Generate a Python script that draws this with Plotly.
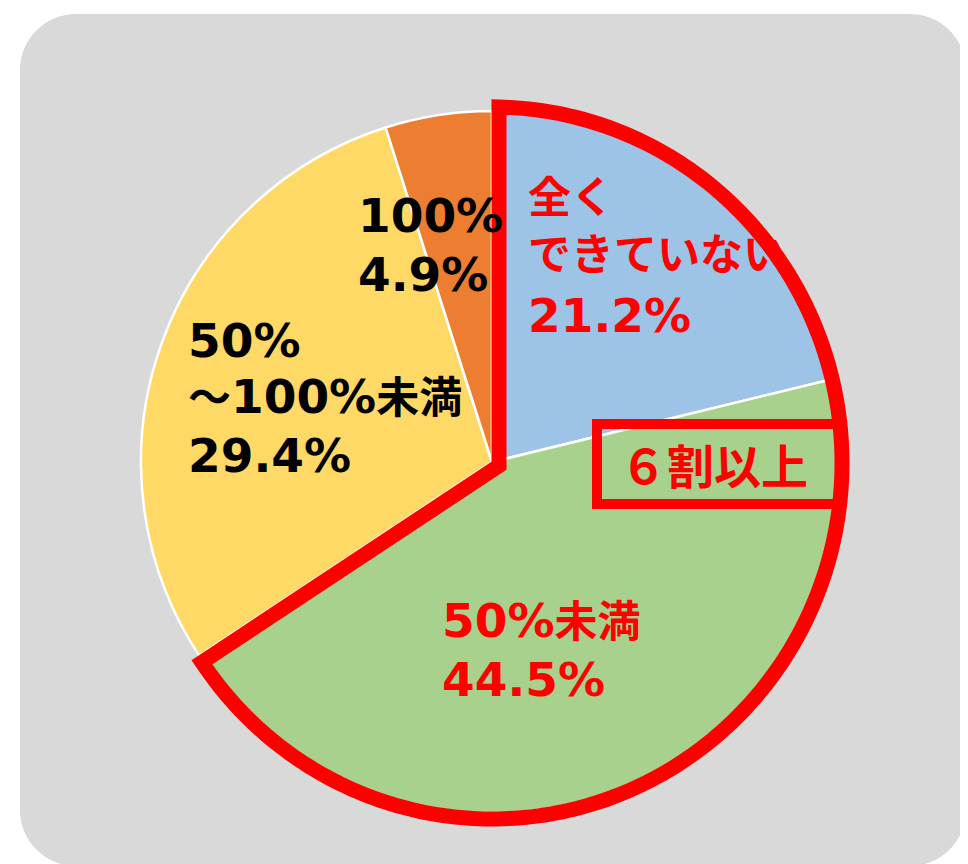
import math
import plotly.graph_objects as go

# ---- data ----
categories = ["全くできていない", "50%未満", "50%～100%未満", "100%"]
values = [21.2, 44.5, 29.4, 4.9]
colors = ["#9DC3E6", "#A9D18E", "#FFD966", "#ED7D31"]
label_lines = [["全く", "できていない"], ["50%未満"], ["50%", "～100%未満"], ["100%"]]
label_colors = ["#FF0000", "#FF0000", "#000000", "#000000"]
highlight = [0, 1]          # slices enclosed by the red outline
highlight_text = "６割以上"

# ---- layout geometry (screen pixels; page body has an 8px margin) ----
W, H = 968, 864
OFF = 8
cx, cy, R = 492, 462, 351
label_pos = [(526, [198, 255, 315]), (440, [620, 679]), (186, [340, 397, 455]), (356, [216, 274])]

def px(x):
    return (x - OFF) / W

def py(y):
    return 1 - (y - OFF) / H

fig = go.Figure(go.Pie(
    labels=categories, values=values, sort=False, direction="clockwise", rotation=0,
    marker=dict(colors=colors, line=dict(color="white", width=2.5)),
    textinfo="none", hoverinfo="skip", showlegend=False,
    domain=dict(x=[px(cx - R), px(cx + R)], y=[py(cy + R), py(cy - R)]),
))

shapes = []
# gray rounded background
x0, y0, x1, y1, rr = 20, 14, 966, 866, 56
k = 0.5523 * rr
pts = [
    f"M{px(x0 + rr)},{py(y0)}", f"L{px(x1 - rr)},{py(y0)}",
    f"C{px(x1 - rr + k)},{py(y0)} {px(x1)},{py(y0 + rr - k)} {px(x1)},{py(y0 + rr)}",
    f"L{px(x1)},{py(y1 - rr)}",
    f"C{px(x1)},{py(y1 - rr + k)} {px(x1 - rr + k)},{py(y1)} {px(x1 - rr)},{py(y1)}",
    f"L{px(x0 + rr)},{py(y1)}",
    f"C{px(x0 + rr - k)},{py(y1)} {px(x0)},{py(y1 - rr + k)} {px(x0)},{py(y1 - rr)}",
    f"L{px(x0)},{py(y0 + rr)}",
    f"C{px(x0)},{py(y0 + rr - k)} {px(x0 + rr - k)},{py(y0)} {px(x0 + rr)},{py(y0)}", "Z",
]
shapes.append(dict(type="path", path=" ".join(pts), xref="paper", yref="paper",
                   fillcolor="#D9D9D9", line=dict(width=0), layer="below"))

# red outline around highlighted slices (computed from the data)
total = sum(values)
a_start = sum(values[:highlight[0]]) / total * 2 * math.pi
a_end = sum(values[:highlight[-1] + 1]) / total * 2 * math.pi
off, lw = 7, 15
ecx, ecy, rx, ry = 492, 463, 350, 356

def dirv(a):
    return (math.sin(a), -math.cos(a))

def nrm(a, sign):
    return (sign * math.cos(a), sign * math.sin(a))

d1, n1 = dirv(a_start), nrm(a_start, 1)
d2, n2 = dirv(a_end), nrm(a_end, -1)
p1 = (cx + off * n1[0], cy + off * n1[1])
p2 = (cx + off * n2[0], cy + off * n2[1])
den = d1[0] * d2[1] - d1[1] * d2[0]
t = ((p2[0] - p1[0]) * d2[1] - (p2[1] - p1[1]) * d2[0]) / den
corner = (p1[0] + t * d1[0], p1[1] + t * d1[1])

def ellipse_hit(p, d):
    ux, uy = (p[0] - ecx) / rx, (p[1] - ecy) / ry
    vx, vy = d[0] / rx, d[1] / ry
    a = vx * vx + vy * vy
    b = 2 * (ux * vx + uy * vy)
    c = ux * ux + uy * uy - 1
    s = (-b + math.sqrt(b * b - 4 * a * c)) / (2 * a)
    return (p[0] + s * d[0], p[1] + s * d[1])

e1 = ellipse_hit(p1, d1)
e2 = ellipse_hit(p2, d2)
ang1 = math.atan2((e1[0] - ecx) / rx, -(e1[1] - ecy) / ry)
ang2 = math.atan2((e2[0] - ecx) / rx, -(e2[1] - ecy) / ry) % (2 * math.pi)
n = 240
arc = []
for i in range(n + 1):
    a = ang1 + (ang2 - ang1) * i / n
    arc.append((ecx + rx * math.sin(a), ecy - ry * math.cos(a)))
path = f"M{px(corner[0])},{py(corner[1])} " + " ".join(f"L{px(x)},{py(y)}" for x, y in arc) + " Z"
shapes.append(dict(type="path", path=path, xref="paper", yref="paper",
                   line=dict(color="#FF0000", width=lw), fillcolor="rgba(0,0,0,0)"))

# red box
bx0, by0, bx1, by1 = 597, 424, 840, 504
shapes.append(dict(type="rect", xref="paper", yref="paper", x0=px(bx0), x1=px(bx1),
                   y0=py(by1), y1=py(by0), line=dict(color="#FF0000", width=10),
                   fillcolor="rgba(0,0,0,0)"))

FONT = "DejaVu Sans, Noto Sans CJK JP, sans-serif"
CJK_SIZE = 43

def fmt(s):
    out, buf, cjk = "", "", None
    for ch in s:
        c = ord(ch) > 0x2000
        if cjk is None or c == cjk:
            buf += ch
        else:
            out += f'<span style="font-size:{CJK_SIZE}px">{buf}</span>' if cjk else buf
            buf = ch
        cjk = c
    out += f'<span style="font-size:{CJK_SIZE}px">{buf}</span>' if cjk else buf
    return out

annotations = []
for i, (lines, v) in enumerate(zip(label_lines, values)):
    xl, ys = label_pos[i]
    texts = lines + [f"{v:.1f}%"]
    for txt, yy in zip(texts, ys):
        annotations.append(dict(text=f"<b>{fmt(txt)}</b>", x=px(xl), y=py(yy), xref="paper", yref="paper",
                                xanchor="left", yanchor="middle", showarrow=False,
                                font=dict(family=FONT, size=47, color=label_colors[i])))
annotations.append(dict(text=f"<b>{highlight_text}</b>", x=px((bx0 + bx1) / 2 - 5), y=py(463),
                        xref="paper", yref="paper", xanchor="center", yanchor="middle", showarrow=False,
                        font=dict(family="Noto Sans CJK JP", size=47, color="#FF0000")))

fig.update_layout(width=W, height=H, margin=dict(l=0, r=0, t=0, b=0),
                  paper_bgcolor="white", plot_bgcolor="white",
                  shapes=shapes, annotations=annotations)
fig.write_html("out.html")
